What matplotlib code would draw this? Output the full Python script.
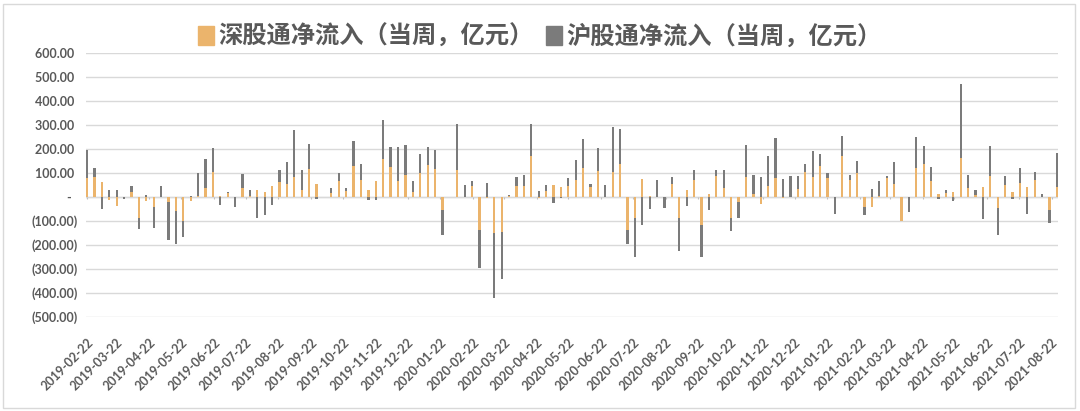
import numpy as np
import pandas as pd
import matplotlib
matplotlib.use('Agg')
import matplotlib.pyplot as plt
from matplotlib.patches import Patch, Rectangle
from matplotlib.ticker import FuncFormatter

# 周度数据（每周五），单位：亿元
weeks = pd.date_range('2019-02-22', periods=132, freq='7D')

sz_flow = [79, 82, 64, -12, -38, 0, 20, -89, -15, -42, 2, -19, -58, -100, -15, 3,
           39, 103, 4, 17, 0, 38, 3, 28, 19, 44,
           64, 56, 82, 31, 118, 55, 0, 17, 65, 25, 131, 69, 31, 68, 158, 126,
           67, 93, 19, 99, 133, 117, -53, 0, 114, 2,
           47, -136, -4, -152, -145, 5, 44, 44, 172, -3, 26, 51, 43, 46, 71, 119,
           43, 107, 2, 106, 139, -137, -89, 75, 4, 2, -2,
           56, -86, 31, 69, -115, 14, 89, 38, -86, -22, 83, 14, -31, 47, 78, -3,
           0, 35, 106, 82, 131, 81, 0, 172, 69, 100,
           -43, -42, 3, 79, 56, -99, 0, 122, 139, 65, 14, 17, 19, 164, 39, 7,
           42, 89, -44, 50, 22, 60, 43, 72, 2, -53, 42]

sh_flow = [118, 40, -50, 28, 30, -10, 26, -44, 8, -89, 42, -159, -136, -67, 5, 97,
           119, 100, -35, 4, -43, 59, 25, -89, -75, -33,
           50, 91, 199, 83, 103, -8, 0, 19, 35, 14, 104, 68, -12, -14, 163, 82,
           141, 122, 46, 80, 77, 80, -104, 0, 189, 48,
           20, -161, 58, -268, -195, 3, 39, 49, 131, 25, 24, -26, -5, 35, 84, 123,
           10, 97, 48, 184, 144, -57, -161, -118, -50, 70, -43,
           26, -140, -39, 42, -135, -54, 25, 76, -57, -66, 134, 78, 83, 122, 169, 75,
           86, 54, 32, 111, 50, 18, -69, 84, 21, 49,
           -33, 33, 65, 10, 88, -3, -61, 127, 73, 60, -10, 11, -17, 305, 53, 24,
           -92, 123, -116, 36, -8, 59, -69, 32, 12, -55, 141]

tick_dates = pd.date_range('2019-02-01', '2021-08-01', freq='MS') + pd.Timedelta(days=21)
y_ticks = [600, 500, 400, 300, 200, 100, 0, -100, -200, -300, -400, -500]

c_sz = '#EBB46C'
c_sh = '#7B7B7B'
c_txt = '#595959'

sz = np.array(sz_flow, dtype=float)
sh = np.array(sh_flow, dtype=float)
# Excel 堆积方式：同号叠加，异号各自从零开始
sh_bottom = np.where(np.sign(sz) == np.sign(sh), sz, 0)

fig = plt.figure(figsize=(10.8, 4.11), dpi=100)
ax = fig.add_axes([86 / 1080, 1 - 317 / 411, 972 / 1080, 264 / 411])

w = 2.1
ax.bar(weeks, sz, width=w, color=c_sz, zorder=3)
ax.bar(weeks, sh, width=w, bottom=sh_bottom, color=c_sh, zorder=3)

ax.set_ylim(-500, 600)
ax.set_xlim(weeks[0] - pd.Timedelta(days=1), weeks[-1] + pd.Timedelta(days=1))
ax.set_yticks(y_ticks)


def fmt(v, _):
    if v == 0:
        return '-  '
    if v < 0:
        return '({:,.2f})'.format(-v)
    return '{:,.2f} '.format(v)


ax.yaxis.set_major_formatter(FuncFormatter(fmt))
ax.grid(axis='y', color='#D9D9D9', linewidth=1, zorder=0)
for s in ax.spines.values():
    s.set_visible(False)

ax.set_xticks(tick_dates)
ax.set_xticklabels([d.strftime('%Y-%m-%d') for d in tick_dates], rotation=45,
                   ha='right', rotation_mode='anchor')
ax.tick_params(axis='x', length=0, pad=14, labelsize=9, labelcolor=c_txt)
ax.tick_params(axis='y', length=0, pad=6, labelsize=9, labelcolor=c_txt)
for lab in ax.get_xticklabels() + ax.get_yticklabels():
    lab.set_fontfamily(['Lato', 'DejaVu Sans'])
    lab.set_fontweight('bold')

# 零轴上的小刻度
ax.vlines(tick_dates, -10, 0, color='#BFBFBF', linewidth=0.8, zorder=2)
ax.axhline(0, color='#D9D9D9', linewidth=1, zorder=1)

handles = [Patch(color=c_sz, label='深股通净流入（当周，亿元）'),
           Patch(color=c_sh, label='沪股通净流入（当周，亿元）')]
leg = fig.legend(handles=handles, loc='center', bbox_to_anchor=(0.5, 1 - 37 / 411),
                 ncol=2, frameon=False, handlelength=0.65, handleheight=0.85,
                 handletextpad=0.2, columnspacing=0.5,
                 prop={'family': ['Noto Sans CJK SC', 'DejaVu Sans'], 'size': 17.5, 'weight': 'bold'})
for t in leg.get_texts():
    t.set_color(c_txt)

fig.patches.append(Rectangle((3 / 1080, 3 / 411), 1072 / 1080, 404 / 411,
                             transform=fig.transFigure, fill=False,
                             edgecolor='#D9D9D9', linewidth=1))

fig.savefig('out.png', dpi=100)
